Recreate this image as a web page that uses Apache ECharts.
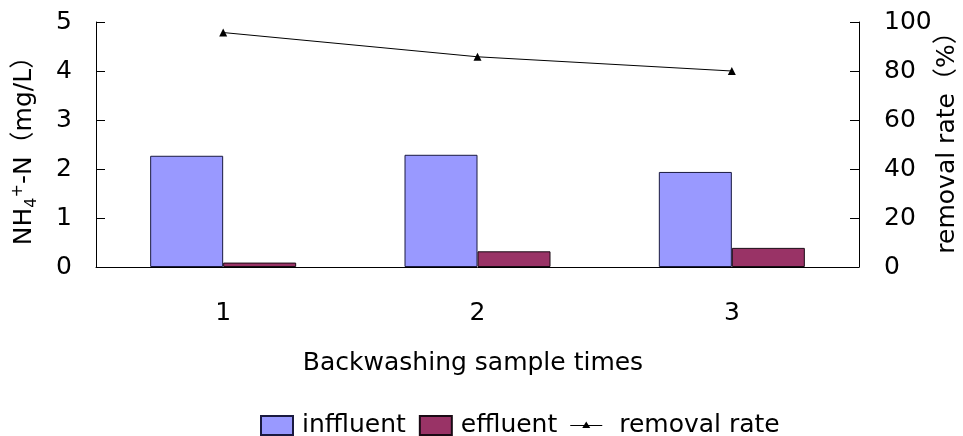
<!DOCTYPE html>
<html>
<head>
<meta charset="utf-8">
<script src="https://cdn.jsdelivr.net/npm/echarts@6/dist/echarts.min.js"></script>
<style>
  html, body { margin: 0; padding: 0; background: #fff; }
  #chart { width: 963px; height: 436px; }
</style>
</head>
<body>
<div id="chart"></div>
<script>
// Backwashing samples and NH4+-N concentrations (mg/L)
const categories = ['1', '2', '3'];
const influent = [2.27, 2.29, 1.94];
const effluent = [0.09, 0.32, 0.39];
// Removal rate (%)
const removalRate = [95.7, 85.8, 80.0];
const leftTicks = [0, 1, 2, 3, 4, 5];
const rightTicks = [0, 20, 40, 60, 80, 100];

const FONT = '"DejaVu Sans", "Noto Sans CJK SC", sans-serif';
const FS = 25;
const chart = echarts.init(document.getElementById('chart'), null, { renderer: 'canvas' });

// legend glyph for the line series: thin line with a small triangle in the middle
const lineIcon = 'path://M0 0 M32 19 M0 9 L32 9 L32 10 L0 10 Z M16 5.5 L20 12 L12 12 Z';

chart.setOption({
  animation: false,
  backgroundColor: '#ffffff',
  textStyle: { fontFamily: FONT, color: '#000' },
  title: {
    text: 'Backwashing sample times',
    left: 473,
    textAlign: 'center',
    top: 351,
    padding: 0,
    textStyle: { fontFamily: FONT, fontSize: FS, fontWeight: 'normal', color: '#000' }
  },
  grid: { left: 96, right: 104, top: 22, bottom: 169, containLabel: false, outerBoundsMode: 'none' },
  legend: {
    left: 260,
    top: 413,
    padding: 0,
    itemWidth: 32,
    itemHeight: 19,
    itemGap: 13,
    formatter: function (name) { return name === 'removal rate' ? ' ' + name : name; },
    textStyle: { fontFamily: FONT, fontSize: FS, color: '#000', lineHeight: 19, padding: [0, 0, 0, 4] },
    data: [
      { name: 'inffluent', icon: 'rect' },
      { name: 'effluent', icon: 'rect' },
      { name: 'removal rate', icon: lineIcon, itemStyle: { color: '#000', borderWidth: 0 } }
    ]
  },
  xAxis: {
    type: 'category',
    data: categories,
    boundaryGap: true,
    axisLine: { lineStyle: { color: '#000', width: 1 } },
    axisTick: { inside: true, length: 9, lineStyle: { color: '#000' } },
    axisLabel: { margin: 34, fontSize: FS, color: '#000', fontFamily: FONT },
    splitLine: { show: false }
  },
  yAxis: [
    {
      type: 'value',
      min: leftTicks[0],
      max: leftTicks[leftTicks.length - 1],
      interval: 1,
      position: 'left',
      name: 'NH{sub|4}{sup|+}-N（mg/L）',
      nameLocation: 'middle',
      nameRotate: 90,
      nameGap: 56,
      nameMoveOverlap: false,
      nameTextStyle: {
        fontFamily: FONT, fontSize: FS, color: '#000',
        rich: {
          sub: { fontSize: 16, verticalAlign: 'bottom', padding: [12, 0, 0, 0], fontFamily: FONT, color: '#000' },
          sup: { fontSize: 16, verticalAlign: 'top', padding: [0, 0, 14, 0], fontFamily: FONT, color: '#000' }
        }
      },
      axisLine: { show: true, lineStyle: { color: '#000', width: 1 } },
      axisTick: { show: true, inside: true, length: 9, lineStyle: { color: '#000' } },
      axisLabel: { margin: 24, fontSize: FS, color: '#000', fontFamily: FONT },
      splitLine: { show: false }
    },
    {
      type: 'value',
      min: rightTicks[0],
      max: rightTicks[rightTicks.length - 1],
      interval: 20,
      position: 'right',
      name: 'removal rate（%）',
      nameLocation: 'middle',
      nameRotate: 90,
      nameGap: 76,
      nameMoveOverlap: false,
      nameTextStyle: { fontFamily: FONT, fontSize: FS, color: '#000', padding: [0, 0, 0, 16] },
      axisLine: { show: true, lineStyle: { color: '#000', width: 1 } },
      axisTick: { show: true, inside: true, length: 9, lineStyle: { color: '#000' } },
      axisLabel: { margin: 25, fontSize: FS, color: '#000', fontFamily: FONT },
      splitLine: { show: false }
    }
  ],
  series: [
    {
      name: 'inffluent',
      type: 'bar',
      yAxisIndex: 0,
      data: influent,
      barWidth: 73,
      barGap: '0%',
      itemStyle: { color: '#9999FF', borderColor: '#1a1a40', borderWidth: 1 }
    },
    {
      name: 'effluent',
      type: 'bar',
      yAxisIndex: 0,
      data: effluent,
      barWidth: 73,
      barGap: '0%',
      itemStyle: { color: '#993366', borderColor: '#1a0a14', borderWidth: 1 }
    },
    {
      name: 'removal rate',
      type: 'line',
      yAxisIndex: 1,
      data: removalRate,
      symbol: 'triangle',
      symbolSize: 8,
      lineStyle: { color: '#000', width: 1 },
      itemStyle: { color: '#000' }
    }
  ]
});
</script>
</body>
</html>
